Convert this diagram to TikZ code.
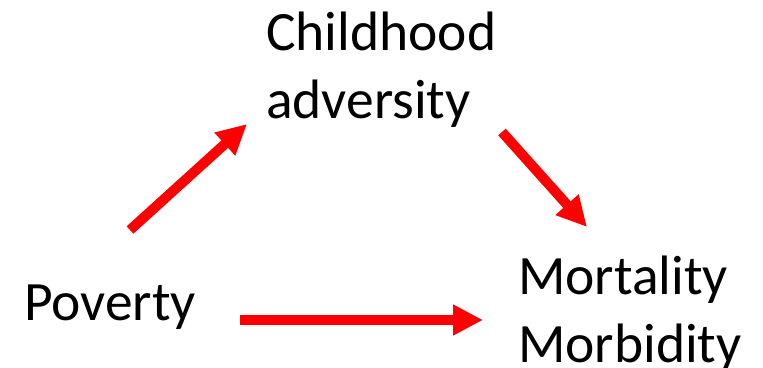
\documentclass[tikz,border=0pt]{standalone}
\usepackage{fontspec}
\setmainfont{Carlito}
\usetikzlibrary{arrows.meta}
\begin{document}
\begin{tikzpicture}[x=1pt,y=-1pt,
  lbl/.style={inner sep=0pt, anchor=north west, align=left, font=\fontsize{55.5}{67.5}\selectfont},
  arr/.style={draw=red, line width=10pt, -{Triangle[length=30pt,width=29pt]}}]
\useasboundingbox (0,0) rectangle (763,367);
\node[lbl] (child) at (266,12) {Childhood\\adversity};
\node[lbl] (pov) at (24,285) {Poverty};
\node[lbl] (mort) at (518,256) {Mortality\\Morbidity};
\coordinate (a1s) at (130,230);
\coordinate (a1e) at (247,124);
\coordinate (a2s) at (502,132);
\coordinate (a2e) at (587,227);
\coordinate (a3s) at (240,320);
\coordinate (a3e) at (483,320);
\draw[arr] (a1s) -- (a1e);
\draw[arr] (a2s) -- (a2e);
\draw[arr] (a3s) -- (a3e);
\end{tikzpicture}
\end{document}
